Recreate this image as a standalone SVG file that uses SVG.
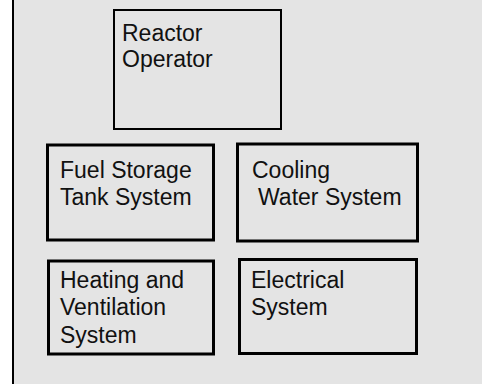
<svg xmlns="http://www.w3.org/2000/svg" width="482" height="384" viewBox="0 0 482 384">
<style>
.bg{fill:#e4e4e4}
.box{fill:none;stroke:#000;stroke-width:3}
.thin{stroke-width:2}
text{font-family:"Liberation Sans",Arial,sans-serif;font-size:23px;fill:#111}
</style>
<rect x="0" y="0" width="482" height="384" fill="#fff"/>
<rect class="bg" x="13" y="0" width="469" height="384"/>
<line x1="13" y1="0" x2="13" y2="384" stroke="#000" stroke-width="2"/>
<g id="reactor-operator">
<rect class="box thin" x="114" y="10" width="167" height="119"/>
<text x="122" y="41">Reactor</text>
<text x="122" y="67">Operator</text>
</g>
<g id="fuel-storage">
<rect class="box" x="47.5" y="145" width="166" height="95"/>
<text x="60" y="178">Fuel Storage</text>
<text x="60" y="205">Tank System</text>
</g>
<g id="cooling-water">
<rect class="box" x="237.5" y="144" width="180" height="97"/>
<text x="252" y="178">Cooling</text>
<text x="258" y="205">Water System</text>
</g>
<g id="heating-ventilation">
<rect class="box" x="48.5" y="261" width="165" height="93"/>
<text x="60" y="288">Heating and</text>
<text x="60" y="315">Ventilation</text>
<text x="60" y="343">System</text>
</g>
<g id="electrical">
<rect class="box" x="239.5" y="259.5" width="177" height="94"/>
<text x="251" y="288">Electrical</text>
<text x="251" y="315">System</text>
</g>
<g id="connectors"></g>
</svg>
